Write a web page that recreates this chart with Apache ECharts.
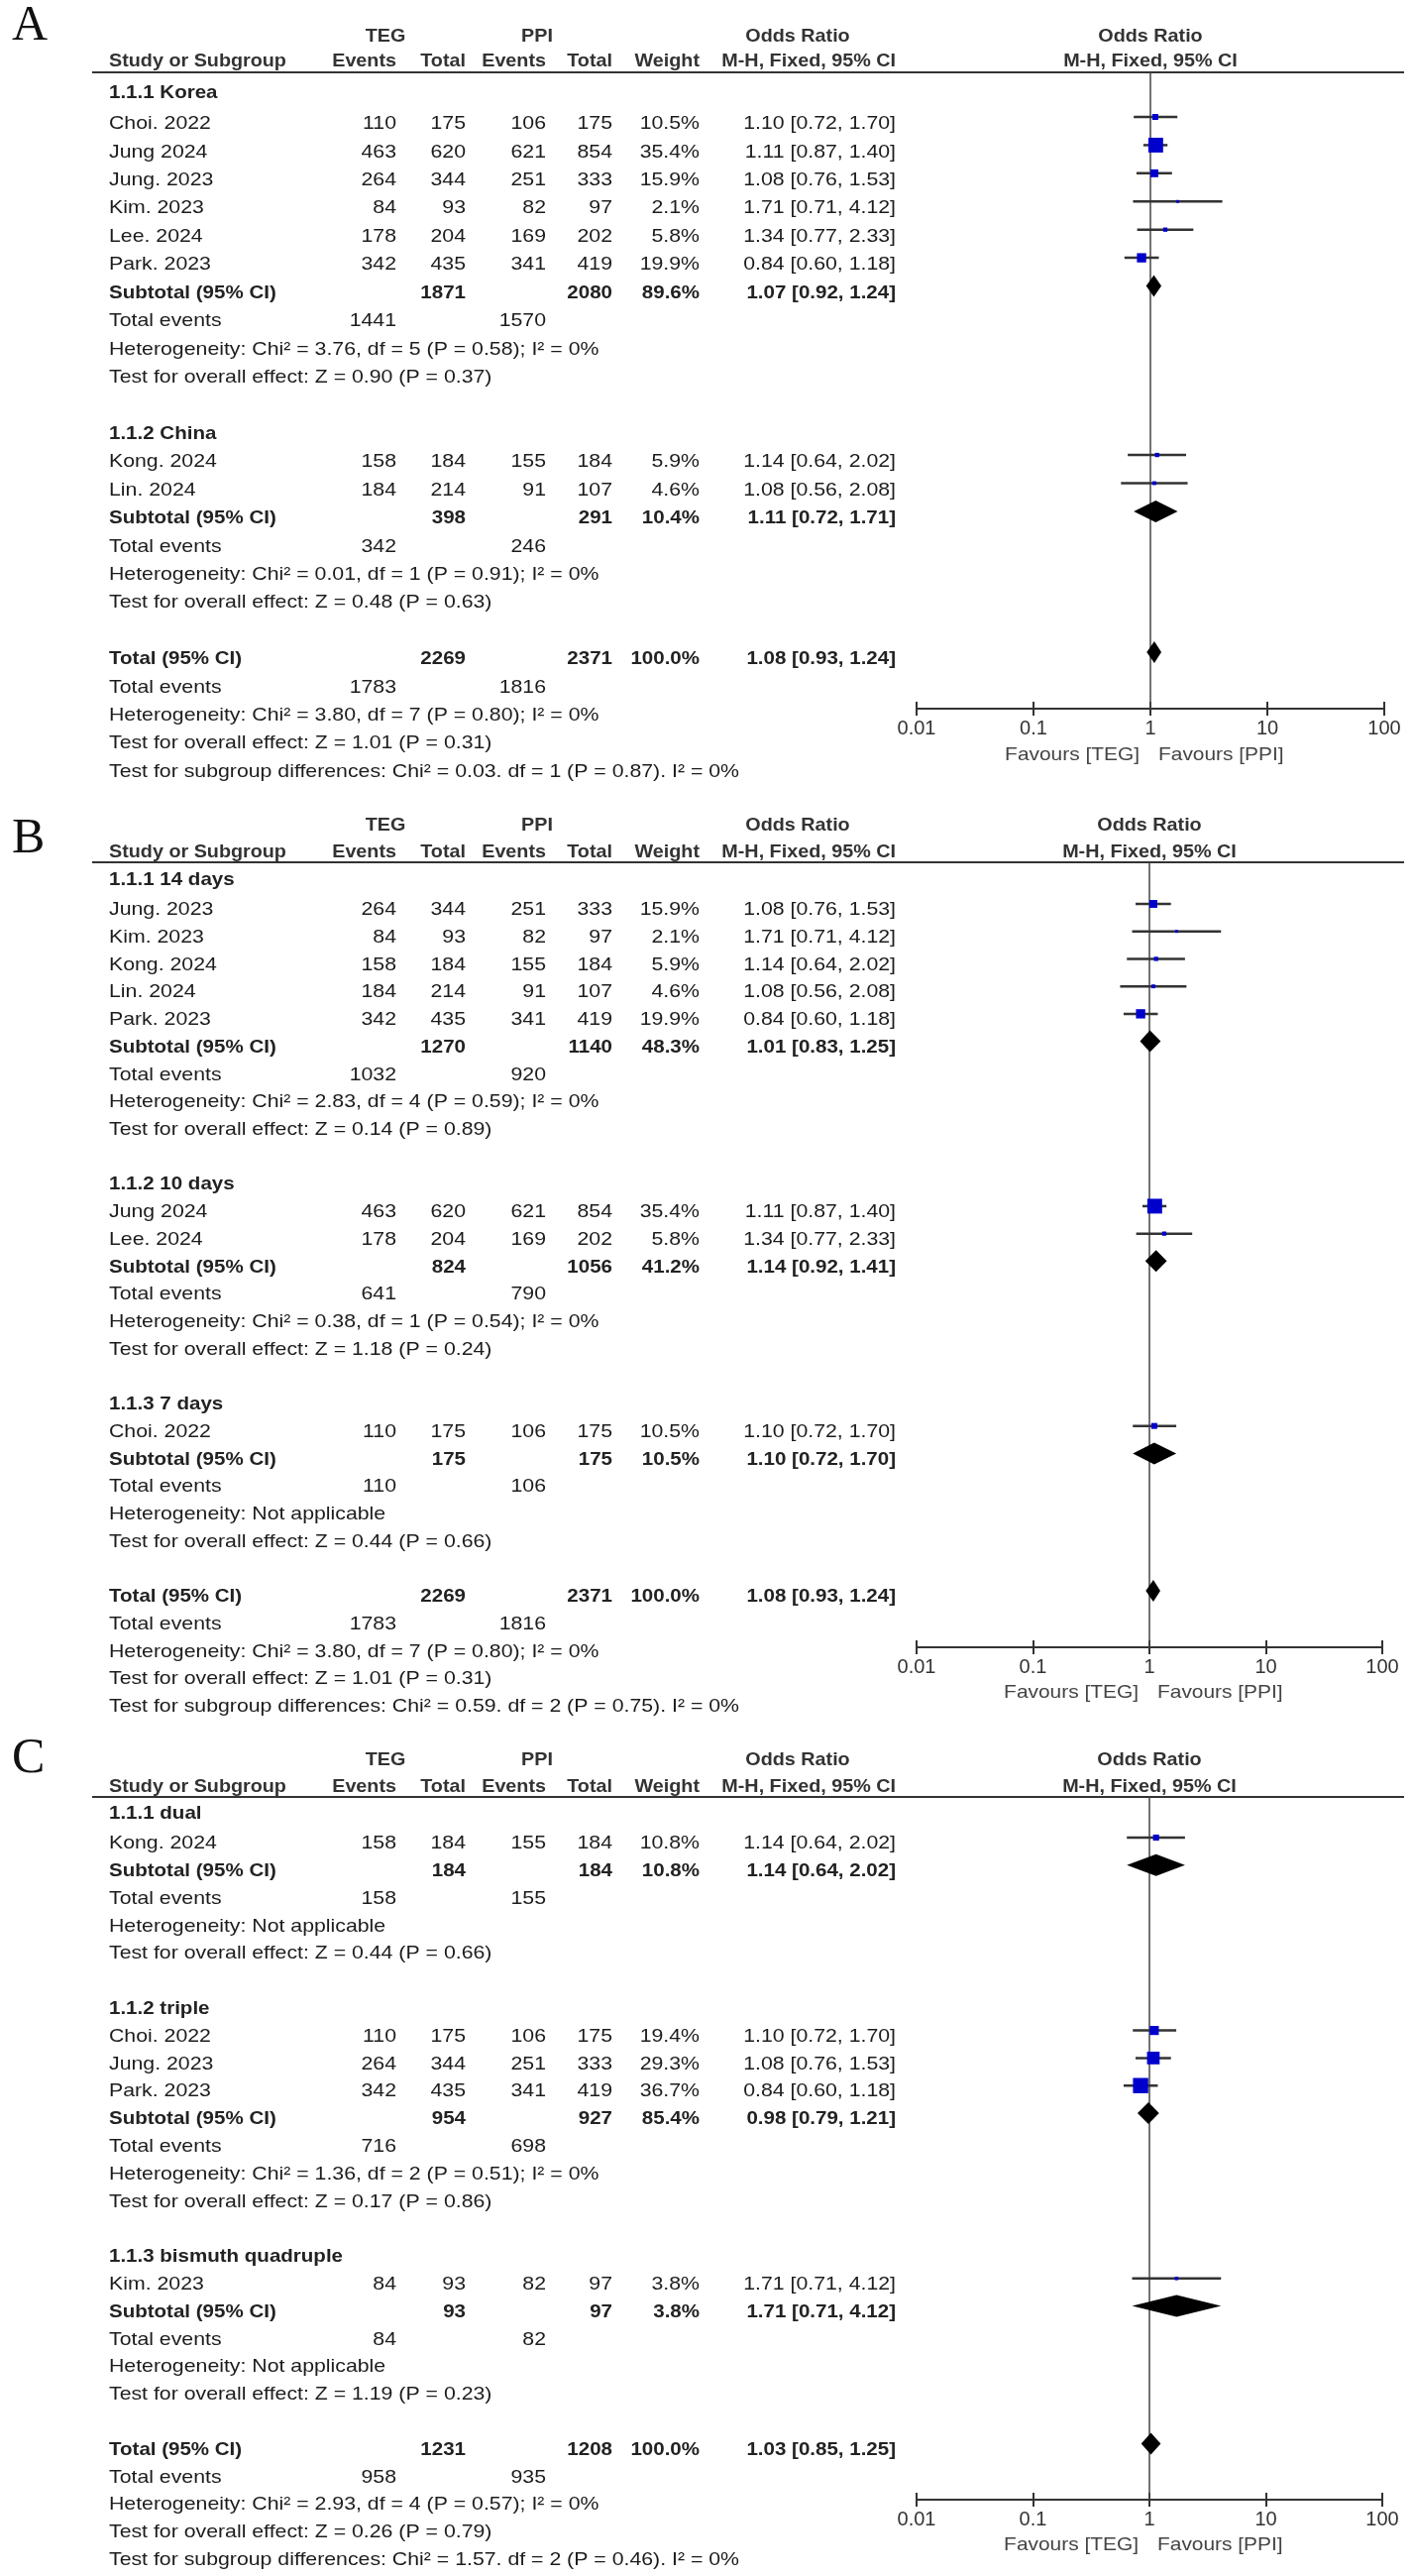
<!DOCTYPE html>
<html><head><meta charset="utf-8">
<script src="https://cdn.jsdelivr.net/npm/echarts@6/dist/echarts.min.js"></script>
<style>html,body{margin:0;padding:0;background:#fff}#c{width:1427px;height:2599px}</style>
</head><body><div id="c"></div><script>
// ================= DATA =================
const tickValues = [0.01, 0.1, 1, 10, 100];
const tickLabels = ['0.01', '0.1', '1', '10', '100'];
const favoursLabels = ['Favours [TEG]', 'Favours [PPI]'];
const headerGroups = ['TEG', 'PPI', 'Odds Ratio'];
const headerCols = ['Study or Subgroup', 'Events', 'Total', 'Events', 'Total', 'Weight', 'M-H, Fixed, 95% CI'];

// ---- Panel A ----
const A_subgroups = ['1.1.1 Korea', '1.1.2 China'];
const A_study = ['Choi. 2022', 'Jung 2024', 'Jung. 2023', 'Kim. 2023', 'Lee. 2024', 'Park. 2023', 'Kong. 2024', 'Lin. 2024'];
const A_group = [0, 0, 0, 0, 0, 0, 1, 1];
const A_tegEvents = [110, 463, 264, 84, 178, 342, 158, 184];
const A_tegTotal = [175, 620, 344, 93, 204, 435, 184, 214];
const A_ppiEvents = [106, 621, 251, 82, 169, 341, 155, 91];
const A_ppiTotal = [175, 854, 333, 97, 202, 419, 184, 107];
const A_weight = [10.5, 35.4, 15.9, 2.1, 5.8, 19.9, 5.9, 4.6];
const A_or = [1.10, 1.11, 1.08, 1.71, 1.34, 0.84, 1.14, 1.08];
const A_lo = [0.72, 0.87, 0.76, 0.71, 0.77, 0.60, 0.64, 0.56];
const A_hi = [1.70, 1.40, 1.53, 4.12, 2.33, 1.18, 2.02, 2.08];
const A_subTegTotal = [1871, 398];
const A_subPpiTotal = [2080, 291];
const A_subWeight = [89.6, 10.4];
const A_subOr = [1.07, 1.11];
const A_subLo = [0.92, 0.72];
const A_subHi = [1.24, 1.71];
const A_subTegEvents = [1441, 342];
const A_subPpiEvents = [1570, 246];
const A_subHet = ['Heterogeneity: Chi² = 3.76, df = 5 (P = 0.58); I² = 0%', 'Heterogeneity: Chi² = 0.01, df = 1 (P = 0.91); I² = 0%'];
const A_subTest = ['Test for overall effect: Z = 0.90 (P = 0.37)', 'Test for overall effect: Z = 0.48 (P = 0.63)'];
const A_total = [2269, 2371, 100.0, 1.08, 0.93, 1.24];
const A_totalEvents = [1783, 1816];
const A_totalNotes = ['Heterogeneity: Chi² = 3.80, df = 7 (P = 0.80); I² = 0%', 'Test for overall effect: Z = 1.01 (P = 0.31)', 'Test for subgroup differences: Chi² = 0.03. df = 1 (P = 0.87). I² = 0%'];

// ---- Panel B ----
const B_subgroups = ['1.1.1 14 days', '1.1.2 10 days', '1.1.3 7 days'];
const B_study = ['Jung. 2023', 'Kim. 2023', 'Kong. 2024', 'Lin. 2024', 'Park. 2023', 'Jung 2024', 'Lee. 2024', 'Choi. 2022'];
const B_group = [0, 0, 0, 0, 0, 1, 1, 2];
const B_tegEvents = [264, 84, 158, 184, 342, 463, 178, 110];
const B_tegTotal = [344, 93, 184, 214, 435, 620, 204, 175];
const B_ppiEvents = [251, 82, 155, 91, 341, 621, 169, 106];
const B_ppiTotal = [333, 97, 184, 107, 419, 854, 202, 175];
const B_weight = [15.9, 2.1, 5.9, 4.6, 19.9, 35.4, 5.8, 10.5];
const B_or = [1.08, 1.71, 1.14, 1.08, 0.84, 1.11, 1.34, 1.10];
const B_lo = [0.76, 0.71, 0.64, 0.56, 0.60, 0.87, 0.77, 0.72];
const B_hi = [1.53, 4.12, 2.02, 2.08, 1.18, 1.40, 2.33, 1.70];
const B_subTegTotal = [1270, 824, 175];
const B_subPpiTotal = [1140, 1056, 175];
const B_subWeight = [48.3, 41.2, 10.5];
const B_subOr = [1.01, 1.14, 1.10];
const B_subLo = [0.83, 0.92, 0.72];
const B_subHi = [1.25, 1.41, 1.70];
const B_subTegEvents = [1032, 641, 110];
const B_subPpiEvents = [920, 790, 106];
const B_subHet = ['Heterogeneity: Chi² = 2.83, df = 4 (P = 0.59); I² = 0%', 'Heterogeneity: Chi² = 0.38, df = 1 (P = 0.54); I² = 0%', 'Heterogeneity: Not applicable'];
const B_subTest = ['Test for overall effect: Z = 0.14 (P = 0.89)', 'Test for overall effect: Z = 1.18 (P = 0.24)', 'Test for overall effect: Z = 0.44 (P = 0.66)'];
const B_total = [2269, 2371, 100.0, 1.08, 0.93, 1.24];
const B_totalEvents = [1783, 1816];
const B_totalNotes = ['Heterogeneity: Chi² = 3.80, df = 7 (P = 0.80); I² = 0%', 'Test for overall effect: Z = 1.01 (P = 0.31)', 'Test for subgroup differences: Chi² = 0.59. df = 2 (P = 0.75). I² = 0%'];

// ---- Panel C ----
const C_subgroups = ['1.1.1 dual', '1.1.2 triple', '1.1.3 bismuth quadruple'];
const C_study = ['Kong. 2024', 'Choi. 2022', 'Jung. 2023', 'Park. 2023', 'Kim. 2023'];
const C_group = [0, 1, 1, 1, 2];
const C_tegEvents = [158, 110, 264, 342, 84];
const C_tegTotal = [184, 175, 344, 435, 93];
const C_ppiEvents = [155, 106, 251, 341, 82];
const C_ppiTotal = [184, 175, 333, 419, 97];
const C_weight = [10.8, 19.4, 29.3, 36.7, 3.8];
const C_or = [1.14, 1.10, 1.08, 0.84, 1.71];
const C_lo = [0.64, 0.72, 0.76, 0.60, 0.71];
const C_hi = [2.02, 1.70, 1.53, 1.18, 4.12];
const C_subTegTotal = [184, 954, 93];
const C_subPpiTotal = [184, 927, 97];
const C_subWeight = [10.8, 85.4, 3.8];
const C_subOr = [1.14, 0.98, 1.71];
const C_subLo = [0.64, 0.79, 0.71];
const C_subHi = [2.02, 1.21, 4.12];
const C_subTegEvents = [158, 716, 84];
const C_subPpiEvents = [155, 698, 82];
const C_subHet = ['Heterogeneity: Not applicable', 'Heterogeneity: Chi² = 1.36, df = 2 (P = 0.51); I² = 0%', 'Heterogeneity: Not applicable'];
const C_subTest = ['Test for overall effect: Z = 0.44 (P = 0.66)', 'Test for overall effect: Z = 0.17 (P = 0.86)', 'Test for overall effect: Z = 1.19 (P = 0.23)'];
const C_total = [1231, 1208, 100.0, 1.03, 0.85, 1.25];
const C_totalEvents = [958, 935];
const C_totalNotes = ['Heterogeneity: Chi² = 2.93, df = 4 (P = 0.57); I² = 0%', 'Test for overall effect: Z = 0.26 (P = 0.79)', 'Test for subgroup differences: Chi² = 1.57. df = 2 (P = 0.46). I² = 0%'];

// ================= LAYOUT =================
const FONT = '"Liberation Sans", Arial, Helvetica, sans-serif';
const COL = { label: 110, tegEv: 400, tegN: 470, ppiEv: 551, ppiN: 618, weight: 706, ci: 904, tegHead: 389, ppiHead: 542, orHead: 805, lineL: 93, lineR: 1417, letter: 12 };
const layouts = [
  { letter: 'A', letterY: 27, hdr1Y: 37, hdr2Y: 62, lineY: 73, textY0: 125, step: 28.42, markOff: 7, axisY: 715, favY: 762, gridLeft: 925, gridWidth: 472 },
  { letter: 'B', letterY: 847, hdr1Y: 833, hdr2Y: 860, lineY: 870, textY0: 918, step: 27.72, markOff: 6, axisY: 1662, favY: 1708, gridLeft: 925, gridWidth: 470 },
  { letter: 'C', letterY: 1775, hdr1Y: 1776, hdr2Y: 1803, lineY: 1813, textY0: 1860, step: 27.8, markOff: 6, axisY: 2522, favY: 2568, gridLeft: 925, gridWidth: 470 }
];
const panelsData = [
  { subgroups: A_subgroups, study: A_study, group: A_group, tegEvents: A_tegEvents, tegTotal: A_tegTotal, ppiEvents: A_ppiEvents, ppiTotal: A_ppiTotal, weight: A_weight, or: A_or, lo: A_lo, hi: A_hi, subTegTotal: A_subTegTotal, subPpiTotal: A_subPpiTotal, subWeight: A_subWeight, subOr: A_subOr, subLo: A_subLo, subHi: A_subHi, subTegEvents: A_subTegEvents, subPpiEvents: A_subPpiEvents, subHet: A_subHet, subTest: A_subTest, total: A_total, totalEvents: A_totalEvents, totalNotes: A_totalNotes },
  { subgroups: B_subgroups, study: B_study, group: B_group, tegEvents: B_tegEvents, tegTotal: B_tegTotal, ppiEvents: B_ppiEvents, ppiTotal: B_ppiTotal, weight: B_weight, or: B_or, lo: B_lo, hi: B_hi, subTegTotal: B_subTegTotal, subPpiTotal: B_subPpiTotal, subWeight: B_subWeight, subOr: B_subOr, subLo: B_subLo, subHi: B_subHi, subTegEvents: B_subTegEvents, subPpiEvents: B_subPpiEvents, subHet: B_subHet, subTest: B_subTest, total: B_total, totalEvents: B_totalEvents, totalNotes: B_totalNotes },
  { subgroups: C_subgroups, study: C_study, group: C_group, tegEvents: C_tegEvents, tegTotal: C_tegTotal, ppiEvents: C_ppiEvents, ppiTotal: C_ppiTotal, weight: C_weight, or: C_or, lo: C_lo, hi: C_hi, subTegTotal: C_subTegTotal, subPpiTotal: C_subPpiTotal, subWeight: C_subWeight, subOr: C_subOr, subLo: C_subLo, subHi: C_subHi, subTegEvents: C_subTegEvents, subPpiEvents: C_subPpiEvents, subHet: C_subHet, subTest: C_subTest, total: C_total, totalEvents: C_totalEvents, totalNotes: C_totalNotes }
];

const STY = {
  reg:  { font: '19px ' + FONT, sx: 1.12, fill: '#1c1c1c' },
  bold: { font: 'bold 19px ' + FONT, sx: 1.08, fill: '#222' },
  head: { font: 'bold 19px ' + FONT, sx: 1.04, fill: '#333' },
  fav:  { font: '19px ' + FONT, sx: 1.1, fill: '#444' }
};

const graphics = [];
function txt(text, x, y, align, st) {
  const s = STY[st];
  graphics.push({
    type: 'text', x: x, y: y, scaleX: s.sx, silent: true,
    style: { text: String(text), x: 0, y: 0, font: s.font, fill: s.fill,
      textAlign: align, align: align, textVerticalAlign: 'middle', verticalAlign: 'middle' }
  });
}
function hline(x1, x2, y, w) {
  graphics.push({ type: 'line', silent: true, shape: { x1: x1, y1: y, x2: x2, y2: y }, style: { stroke: '#333', lineWidth: w } });
}
const pct = v => v.toFixed(1) + '%';
const ciText = (o, l, h) => o.toFixed(2) + ' [' + l.toFixed(2) + ', ' + h.toFixed(2) + ']';

const grids = [], xAxes = [], yAxes = [], series = [];

function tickFmt(v) {
  const e = Math.round(Math.log10(v));
  const k = tickValues.findIndex(t => Math.round(Math.log10(t)) === e);
  return k >= 0 ? tickLabels[k] : '';
}

panelsData.forEach((D, idx) => {
  const L = layouts[idx];
  const T = r => L.textY0 + r * L.step;
  const markY0 = L.textY0 - L.markOff;
  const xOne = L.gridLeft + L.gridWidth / 2;

  // panel letter
  graphics.push({ type: 'text', x: COL.letter, y: L.letterY, silent: true,
    style: { text: L.letter, x: 0, y: 0, font: '50px "Liberation Serif", "Times New Roman", serif', fill: '#111',
      textAlign: 'left', align: 'left', textVerticalAlign: 'middle', verticalAlign: 'middle' } });

  // headers
  txt(headerGroups[0], COL.tegHead, L.hdr1Y, 'center', 'head');
  txt(headerGroups[1], COL.ppiHead, L.hdr1Y, 'center', 'head');
  txt(headerGroups[2], COL.orHead, L.hdr1Y, 'center', 'head');
  txt(headerGroups[2], xOne, L.hdr1Y, 'center', 'head');
  txt(headerCols[0], COL.label, L.hdr2Y, 'left', 'head');
  txt(headerCols[1], COL.tegEv, L.hdr2Y, 'right', 'head');
  txt(headerCols[2], COL.tegN, L.hdr2Y, 'right', 'head');
  txt(headerCols[3], COL.ppiEv, L.hdr2Y, 'right', 'head');
  txt(headerCols[4], COL.ppiN, L.hdr2Y, 'right', 'head');
  txt(headerCols[5], COL.weight, L.hdr2Y, 'right', 'head');
  txt(headerCols[6], COL.ci, L.hdr2Y, 'right', 'head');
  txt(headerCols[6], xOne, L.hdr2Y, 'center', 'head');
  hline(COL.lineL, COL.lineR, L.lineY, 2);

  const studyRows = [], diamondRows = [];
  let r = 0;
  D.subgroups.forEach((sg, g) => {
    let hr;
    if (g === 0) hr = -1.1; else { hr = r; r++; }
    txt(sg, COL.label, T(hr), 'left', 'bold');
    D.study.forEach((nm, i) => {
      if (D.group[i] !== g) return;
      const y = T(r);
      txt(nm, COL.label, y, 'left', 'reg');
      txt(D.tegEvents[i], COL.tegEv, y, 'right', 'reg');
      txt(D.tegTotal[i], COL.tegN, y, 'right', 'reg');
      txt(D.ppiEvents[i], COL.ppiEv, y, 'right', 'reg');
      txt(D.ppiTotal[i], COL.ppiN, y, 'right', 'reg');
      txt(pct(D.weight[i]), COL.weight, y, 'right', 'reg');
      txt(ciText(D.or[i], D.lo[i], D.hi[i]), COL.ci, y, 'right', 'reg');
      studyRows.push([D.or[i], D.lo[i], D.hi[i], r, D.weight[i]]);
      r++;
    });
    let y = T(r);
    txt('Subtotal (95% CI)', COL.label, y, 'left', 'bold');
    txt(D.subTegTotal[g], COL.tegN, y, 'right', 'bold');
    txt(D.subPpiTotal[g], COL.ppiN, y, 'right', 'bold');
    txt(pct(D.subWeight[g]), COL.weight, y, 'right', 'bold');
    txt(ciText(D.subOr[g], D.subLo[g], D.subHi[g]), COL.ci, y, 'right', 'bold');
    diamondRows.push([D.subOr[g], D.subLo[g], D.subHi[g], r]);
    r++;
    y = T(r);
    txt('Total events', COL.label, y, 'left', 'reg');
    txt(D.subTegEvents[g], COL.tegEv, y, 'right', 'reg');
    txt(D.subPpiEvents[g], COL.ppiEv, y, 'right', 'reg');
    r++;
    txt(D.subHet[g], COL.label, T(r), 'left', 'reg'); r++;
    txt(D.subTest[g], COL.label, T(r), 'left', 'reg'); r++;
    r++; // blank
  });
  let y = T(r);
  txt('Total (95% CI)', COL.label, y, 'left', 'bold');
  txt(D.total[0], COL.tegN, y, 'right', 'bold');
  txt(D.total[1], COL.ppiN, y, 'right', 'bold');
  txt(pct(D.total[2]), COL.weight, y, 'right', 'bold');
  txt(ciText(D.total[3], D.total[4], D.total[5]), COL.ci, y, 'right', 'bold');
  diamondRows.push([D.total[3], D.total[4], D.total[5], r]);
  r++;
  y = T(r);
  txt('Total events', COL.label, y, 'left', 'reg');
  txt(D.totalEvents[0], COL.tegEv, y, 'right', 'reg');
  txt(D.totalEvents[1], COL.ppiEv, y, 'right', 'reg');
  r++;
  D.totalNotes.forEach(n => { txt(n, COL.label, T(r), 'left', 'reg'); r++; });

  // favours
  txt(favoursLabels[0], xOne - 11, L.favY, 'right', 'fav');
  txt(favoursLabels[1], xOne + 8, L.favY, 'left', 'fav');

  // grid & axes for the forest plot
  const yMin = (L.lineY - markY0) / L.step;
  const yMax = (L.axisY - markY0) / L.step;
  grids.push({ left: L.gridLeft, width: L.gridWidth, top: L.lineY, height: L.axisY - L.lineY, containLabel: false });
  const axLine = { show: true, onZero: false, lineStyle: { color: '#333', width: 2 } };
  xAxes.push({
    type: 'log', logBase: 10, min: 0.01, max: 100, gridIndex: idx, position: 'bottom',
    axisLine: axLine,
    axisTick: { show: true, inside: false, length: 7, lineStyle: { color: '#333', width: 2 } },
    axisLabel: { show: true, formatter: tickFmt, fontSize: 20, fontFamily: FONT, color: '#333', margin: 10, showMinLabel: true, showMaxLabel: true },
    splitLine: { show: false }, minorTick: { show: false }
  });
  xAxes.push({
    type: 'log', logBase: 10, min: 0.01, max: 100, gridIndex: idx, position: 'bottom',
    axisLine: axLine,
    axisTick: { show: true, inside: true, length: 7, lineStyle: { color: '#333', width: 2 } },
    axisLabel: { show: false }, splitLine: { show: false }
  });
  yAxes.push({ type: 'value', gridIndex: idx, min: yMin, max: yMax, inverse: true, show: false, splitLine: { show: false }, axisLine: { onZero: false } });

  const xi = idx * 2;
  series.push({
    type: 'line', xAxisIndex: xi, yAxisIndex: idx, data: [[1, yMin], [1, yMax]],
    symbol: 'none', silent: true, z: 2, animation: false,
    lineStyle: { color: '#444', width: 1.5 }
  });
  series.push({
    type: 'custom', xAxisIndex: xi, yAxisIndex: idx, data: studyRows, z: 3, silent: true, animation: false,
    encode: { x: [0, 1, 2], y: 3 },
    renderItem: (params, api) => {
      const yv = api.value(3);
      const p0 = api.coord([api.value(1), yv]);
      const p1 = api.coord([api.value(2), yv]);
      const c = api.coord([api.value(0), yv]);
      const s = 2.2 + 0.36 * api.value(4);
      return { type: 'group', children: [
        { type: 'line', shape: { x1: p0[0], y1: p0[1], x2: p1[0], y2: p1[1] }, style: { stroke: '#333', lineWidth: 2.5 } },
        { type: 'rect', shape: { x: c[0] - s / 2, y: c[1] - s / 2, width: s, height: s }, style: { fill: '#0000cd' } }
      ] };
    }
  });
  series.push({
    type: 'custom', xAxisIndex: xi, yAxisIndex: idx, data: diamondRows, z: 4, silent: true, animation: false,
    encode: { x: [0, 1, 2], y: 3 },
    renderItem: (params, api) => {
      const yv = api.value(3);
      const l = api.coord([api.value(1), yv]);
      const h = api.coord([api.value(2), yv]);
      const c = api.coord([api.value(0), yv]);
      const hh = 11;
      return { type: 'polygon', shape: { points: [[l[0], c[1]], [c[0], c[1] - hh], [h[0], c[1]], [c[0], c[1] + hh]] }, style: { fill: '#000' } };
    }
  });
});

const chart = echarts.init(document.getElementById('c'), null, { renderer: 'canvas' });
chart.setOption({
  animation: false,
  backgroundColor: '#fff',
  grid: grids, xAxis: xAxes, yAxis: yAxes, series: series,
  graphic: { elements: graphics }
});
</script></body></html>
